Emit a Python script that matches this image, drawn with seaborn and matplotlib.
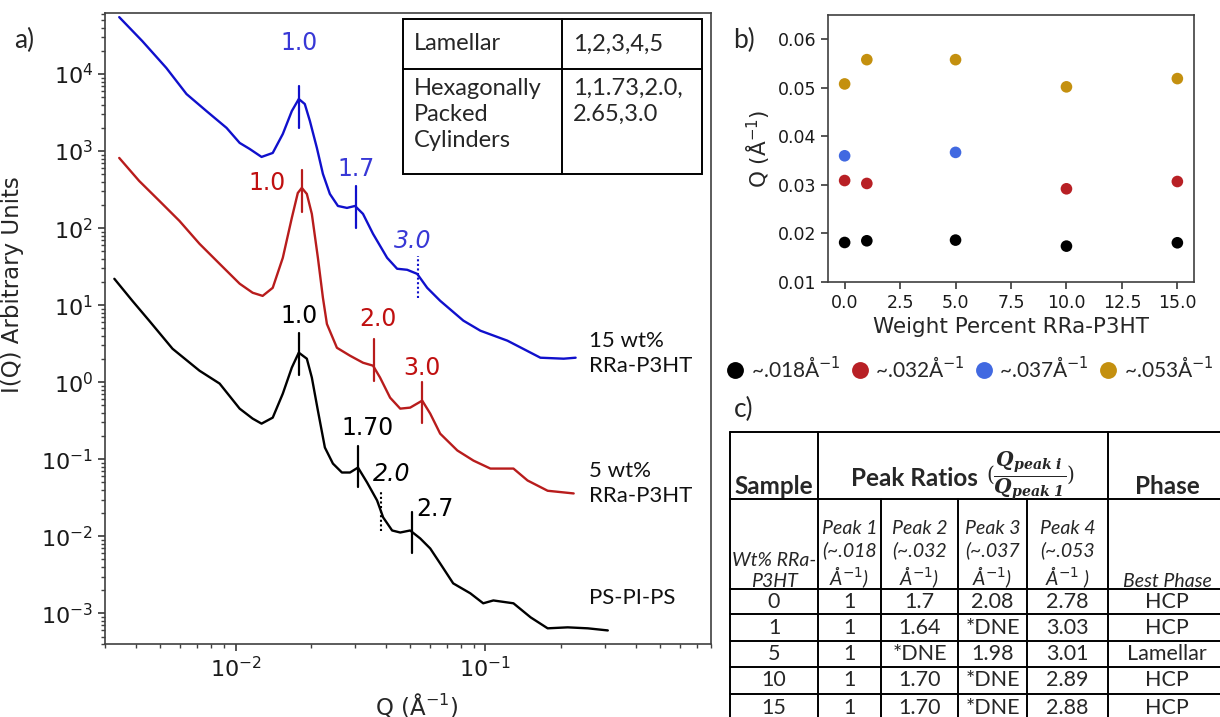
import numpy as np
import pandas as pd
import matplotlib
matplotlib.use("Agg")
import matplotlib.pyplot as plt
import seaborn as sns
from matplotlib.ticker import LogLocator, NullFormatter

# ---------------- panel a data ----------------
q_15 = [0.00342, 0.00423, 0.00528, 0.00636, 0.00765, 0.0092, 0.01038, 0.01138, 0.0127,
        0.01408, 0.01545, 0.01679, 0.0179, 0.01892, 0.01983, 0.02115, 0.02236, 0.02384,
        0.02568, 0.02791, 0.03006, 0.03236, 0.03549, 0.04041, 0.04431, 0.04861, 0.05331,
        0.05847, 0.0659, 0.0816, 0.0955, 0.1225, 0.166, 0.2057, 0.2297]
i_15 = [5.48e4, 2.68e4, 1.2e4, 5.5e3, 3.3e3, 2.0e3, 1277, 1067, 840,
        946, 1668, 3311, 4745, 4085, 2460, 1099, 506, 278,
        194, 183, 194, 153, 84.3, 41.2, 29.7, 28.8, 25.5,
        16.8, 11.4, 6.3, 4.66, 3.46, 2.08, 2.02, 2.08]

q_5 = [0.00342, 0.00411, 0.00495, 0.00596, 0.00717, 0.00863, 0.01038, 0.0117, 0.01283,
       0.01408, 0.01545, 0.01679, 0.01774, 0.01841, 0.01928, 0.02019, 0.02135, 0.02236,
       0.0232, 0.02544, 0.0287, 0.03236, 0.03549, 0.03786, 0.04154, 0.0456, 0.04998,
       0.05585, 0.06013, 0.0659, 0.0772, 0.0896, 0.1047, 0.1295, 0.1475, 0.1775, 0.2256]
i_5 = [815, 410, 226, 124, 62.6, 34.4, 19.0, 14.5, 13.2,
       16.8, 41.2, 136, 286, 333, 278, 153, 41.2, 12.5,
       5.7, 2.8, 2.21, 1.79, 1.64, 1.15, 0.63, 0.454, 0.468,
       0.577, 0.391, 0.215, 0.13, 0.096, 0.0757, 0.0757, 0.053, 0.039, 0.036]

q_0 = [0.00327, 0.00386, 0.00451, 0.00559, 0.00717, 0.00863, 0.01038, 0.0117, 0.0127,
       0.01408, 0.01545, 0.01679, 0.0179, 0.01928, 0.02019, 0.02135, 0.02277, 0.02452,
       0.02664, 0.0287, 0.0309, 0.0336, 0.03684, 0.03896, 0.04232, 0.0456, 0.04998,
       0.05483, 0.06013, 0.0659, 0.0743, 0.087, 0.098, 0.1076, 0.1295, 0.1517, 0.1775,
       0.2135, 0.257, 0.309]
i_0 = [22, 11.4, 6.28, 2.72, 1.41, 0.96, 0.454, 0.337, 0.290,
       0.347, 0.711, 1.55, 2.42, 2.02, 1.15, 0.428, 0.142, 0.0879,
       0.0673, 0.0673, 0.078, 0.0499, 0.0292, 0.0176, 0.0119, 0.0112, 0.0119,
       0.00938, 0.00695, 0.00444, 0.00245, 0.00182, 0.00135, 0.00147, 0.00135, 0.000887, 0.000639,
       0.000658, 0.000639, 0.0006]

samples = ["15 wt%\nRRa-P3HT", "5 wt%\nRRa-P3HT", "PS-PI-PS"]
line_colors = ["#1010cc", "#b81c1c", "#000000"]
label_colors = ["#3838d6", "#c01010", "#000000"]

# peak markers: (Q, I_center, label, label_Q, label_I, dotted)
peaks_15 = [(0.0179, 3730, "1.0", 0.0179, 2.5e4, False),
            (0.0304, 189, "1.7", 0.0304, 586, False),
            (0.0538, 23.3, "3.0", 0.0512, 68, True)]
peaks_5 = [(0.0184, 304, "1.0", 0.01332, 386, False),
           (0.0358, 1.96, "2.0", 0.0371, 6.67, False),
           (0.0558, 0.543, "3.0", 0.0558, 1.55, False)]
peaks_0 = [(0.0179, 2.34, "1.0", 0.0179, 7.3, False),
           (0.0309, 0.0804, "1.70", 0.0336, 0.258, False),
           (0.0383, 0.0216, "2.0", 0.0420, 0.0653, True),
           (0.0509, 0.0112, "2.7", 0.0528, 0.0223, False)]
sample_label_I = [2.35, 0.0484, 0.00156]

phase_rows = [["Lamellar", "1,2,3,4,5"],
              ["Hexagonally\nPacked\nCylinders", "1,1.73,2.0,\n2.65,3.0"]]

# ---------------- panel b data ----------------
wt = [0, 1, 5, 10, 15]
q_peak1 = [0.01814, 0.01849, 0.01863, 0.01739, 0.01808]
q_peak2 = [0.0309, 0.0303, np.nan, 0.0292, 0.0307]
q_peak3 = [0.0360, np.nan, 0.0367, np.nan, np.nan]
q_peak4 = [0.0508, 0.0558, 0.0558, 0.0502, 0.0519]
peak_names = ["~.018Å$^{-1}$", "~.032Å$^{-1}$", "~.037Å$^{-1}$", "~.053Å$^{-1}$"]
peak_colors = ["#000000", "#b82025", "#4169e1", "#c4900f"]

# ---------------- panel c data ----------------
tbl_wt = ["0", "1", "5", "10", "15"]
tbl_p1 = ["1", "1", "1", "1", "1"]
tbl_p2 = ["1.7", "1.64", "*DNE", "1.70", "1.70"]
tbl_p3 = ["2.08", "*DNE", "1.98", "*DNE", "*DNE"]
tbl_p4 = ["2.78", "3.03", "3.01", "2.89", "2.88"]
tbl_phase = ["HCP", "HCP", "Lamellar", "HCP", "HCP"]
sub_headers = ["Wt% RRa-\nP3HT", "Peak 1\n(~.018\nÅ$^{-1}$)", "Peak 2\n(~.032\nÅ$^{-1}$)",
               "Peak 3\n(~.037\nÅ$^{-1}$)", "Peak 4\n(~.053\nÅ$^{-1}$ )", "Best Phase"]

# ---------------- style ----------------
sns.set_theme(style="ticks", rc={
    "axes.edgecolor": "#404040", "axes.linewidth": 1.2,
    "xtick.color": "#404040", "ytick.color": "#404040",
    "xtick.labelcolor": "#1a1a1a", "ytick.labelcolor": "#1a1a1a",
    "xtick.major.size": 5, "ytick.major.size": 5,
    "xtick.minor.size": 3, "ytick.minor.size": 3,
})
plt.rcParams["font.family"] = ["DejaVu Sans"]
TF = ["Lato", "DejaVu Sans"]

W, H = 1220, 717
fig = plt.figure(figsize=(12.2, 7.17), dpi=100)


def rect(x0, y0, x1, y1):
    return [x0 / W, 1 - y1 / H, (x1 - x0) / W, (y1 - y0) / H]


# ---------------- panel a ----------------
ax = fig.add_axes(rect(105, 13, 711, 644))
df_a = pd.concat([
    pd.DataFrame({"Q": q_15, "I": i_15, "sample": samples[0]}),
    pd.DataFrame({"Q": q_5, "I": i_5, "sample": samples[1]}),
    pd.DataFrame({"Q": q_0, "I": i_0, "sample": samples[2]}),
])
ax.set_xscale("log")
ax.set_yscale("log")
sns.lineplot(data=df_a, x="Q", y="I", hue="sample", hue_order=samples,
             palette=line_colors, estimator=None, sort=False, legend=False,
             linewidth=1.7, ax=ax)
ax.set_xlim(3.0e-3, 0.80)
ax.set_ylim(4.0e-4, 6.2e4)
ax.yaxis.set_major_locator(LogLocator(base=10, numticks=30))
ax.yaxis.set_minor_locator(LogLocator(base=10, subs=np.arange(2, 10), numticks=200))
ax.yaxis.set_minor_formatter(NullFormatter())
ax.xaxis.set_major_locator(LogLocator(base=10, numticks=30))
ax.xaxis.set_minor_locator(LogLocator(base=10, subs=np.arange(2, 10), numticks=200))
ax.xaxis.set_minor_formatter(NullFormatter())
ax.tick_params(labelsize=16)
ax.set_xlabel("Q (Å$^{-1}$)", fontsize=16.5)
ax.set_ylabel("I(Q) Arbitrary Units", fontsize=16.5)
ax.xaxis.set_label_coords(0.515, -0.075)
ax.yaxis.set_label_coords(-0.133, 0.57)

half = 0.27  # half-length of peak marks in decades
for peaks, lc, tc in zip([peaks_15, peaks_5, peaks_0], line_colors, label_colors):
    for (qp, ic, lab, ql, il, dotted) in peaks:
        ax.plot([qp, qp], [ic / 10 ** half, ic * 10 ** half], color=lc,
                lw=1.6 if not dotted else 1.5, ls=(0, (1, 1.2)) if dotted else "-")
        ax.text(ql, il, lab, color=tc, fontsize=17,
                ha="left" if lab == "2.7" else "center", va="center",
                style="italic" if dotted else "normal")

for s, yl in zip(samples, sample_label_I):
    ax.text(0.2595, yl, s, fontsize=16, family=TF, ha="left", va="center",
            linespacing=1.35, color="#111111")

# ---------------- panel b ----------------
axb = fig.add_axes(rect(828, 15, 1194, 282))
df_b = pd.concat([
    pd.DataFrame({"wt": wt, "Q": q, "peak": name})
    for q, name in zip([q_peak1, q_peak2, q_peak3, q_peak4], peak_names)
]).dropna()
sns.scatterplot(data=df_b, x="wt", y="Q", hue="peak", hue_order=peak_names,
                palette=peak_colors, s=70, linewidth=0, ax=axb)
axb.set_ylim(0.01, 0.065)
axb.set_yticks([0.01, 0.02, 0.03, 0.04, 0.05, 0.06])
axb.tick_params(labelsize=12.5)
axb.set_xlabel("Weight Percent RRa-P3HT", fontsize=15.5)
axb.set_ylabel("Q (Å$^{-1}$)", fontsize=15.5)
sns.move_legend(axb, loc="center left", bbox_to_anchor=(726 / W, 1 - 369 / H),
                bbox_transform=fig.transFigure, ncol=4, frameon=False, title=None,
                markerscale=1.45, handlelength=0.9, handletextpad=0.3,
                columnspacing=0.45, prop={"family": TF, "size": 15}, borderaxespad=0,
                borderpad=0)

# ---------------- overlay (tables, letters) ----------------
ov = fig.add_axes([0, 0, 1, 1], zorder=10)
ov.set_xlim(0, W)
ov.set_ylim(H, 0)
ov.axis("off")
ov.patch.set_alpha(0)

ov.text(24, 40, "a)", fontsize=19, family=TF, ha="center", va="center")
ov.text(744, 40, "b)", fontsize=19, family=TF, ha="center", va="center")
ov.text(744, 409, "c)", fontsize=19, family=TF, ha="center", va="center")

# panel a reference table
lw = 1.4
ov.add_patch(plt.Rectangle((403, 19), 299, 155, fill=True, facecolor="white",
                           edgecolor="black", lw=lw))
ov.plot([562, 562], [19, 174], color="black", lw=lw)
ov.plot([403, 702], [69, 69], color="black", lw=lw)
ov.text(414, 44, phase_rows[0][0], fontsize=17, family=TF, va="center")
ov.text(573, 44, phase_rows[0][1], fontsize=17, family=TF, va="center")
ov.text(414, 78, phase_rows[1][0], fontsize=17, family=TF, va="top", linespacing=1.3)
ov.text(573, 78, phase_rows[1][1], fontsize=17, family=TF, va="top", linespacing=1.3)

# panel c table
cols = [730, 818, 881, 958, 1027, 1108, 1226]
rows = [432, 499, 589, 614, 641, 667, 694, 722]
kw = dict(color="black", lw=1.4)
for y in rows:
    ov.plot([cols[0], cols[-1]], [y, y], **kw)
for x in [730, 818, 1108, 1226]:
    ov.plot([x, x], [rows[0], rows[-1]], **kw)
for x in [881, 958, 1027]:
    ov.plot([x, x], [rows[1], rows[-1]], **kw)

ov.text(774, 486, "Sample", fontsize=17.5, weight="bold", family=TF, ha="center", va="center")
ov.text(914, 478, "Peak Ratios", fontsize=17.5, weight="bold", family=TF, ha="center", va="center")
ov.text(1030, 476, r"$(\dfrac{\mathbfit{Q_{peak\ i}}}{\mathbfit{Q_{peak\ 1}}})$",
        fontsize=14.5, math_fontfamily="dejavuserif", ha="center", va="center")
ov.text(1167, 486, "Phase", fontsize=17.5, weight="bold", family=TF, ha="center", va="center")

centers = [(cols[i] + cols[i + 1]) / 2 for i in range(len(cols) - 1)]
centers[-1] = 1167
for c, txt in zip(centers, sub_headers):
    ov.text(c, 590, txt, fontsize=14, style="italic", family=TF, ha="center", va="bottom",
            linespacing=1.25)

for r, vals in enumerate(zip(tbl_wt, tbl_p1, tbl_p2, tbl_p3, tbl_p4, tbl_phase)):
    yc = (rows[r + 2] + rows[r + 3]) / 2
    for c, v in zip(centers, vals):
        ov.text(c, yc, v, fontsize=15.5, family=TF, ha="center", va="center")

fig.savefig("out.png", dpi=100)
